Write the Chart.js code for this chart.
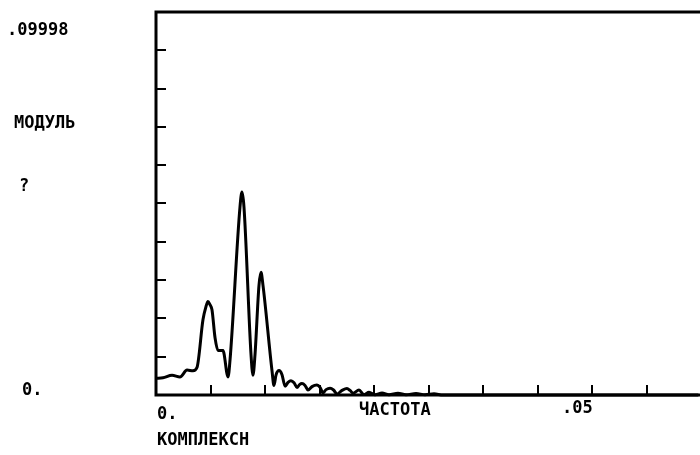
<!DOCTYPE html>
<html>
<head>
<meta charset="utf-8">
<script src="https://cdn.jsdelivr.net/npm/chart.js@4/dist/chart.umd.min.js"></script>
<style>
  html, body { margin: 0; padding: 0; background: #fff; }
  canvas { display: block; }
</style>
</head>
<body>
<canvas id="spec" width="700" height="455"></canvas>
<script>
  // Spectrum modulus vs frequency, plotter style.
  var freq = [0, 0.0008, 0.00184, 0.00275, 0.00356, 0.00424, 0.0047, 0.00539,
    0.00573, 0.00596, 0.00619, 0.00642, 0.00677, 0.00711, 0.00768, 0.00826,
    0.00849, 0.00963, 0.00986, 0.01009, 0.0109, 0.01112, 0.01135, 0.01181,
    0.01204, 0.01227, 0.0133, 0.01353, 0.01376, 0.01411, 0.01445, 0.0148,
    0.01514, 0.01548, 0.01583, 0.01617, 0.01646, 0.01674, 0.01709, 0.01743,
    0.01789, 0.01846, 0.01881, 0.01915, 0.0195, 0.01996, 0.02036, 0.02076,
    0.02133, 0.0219, 0.02225, 0.02259, 0.02328, 0.02385, 0.02443, 0.02512,
    0.02592, 0.02672, 0.02775, 0.02867, 0.02982, 0.03085, 0.03188, 0.03291,
    0.0622];
  var modul = [0.00436, 0.00449, 0.00517, 0.0047, 0.0065, 0.00632, 0.00718, 0.01968,
    0.02307, 0.0244, 0.02357, 0.02226, 0.01493, 0.01161, 0.01159, 0.00472,
    0.00916, 0.04905, 0.05296, 0.04905, 0.01039, 0.00517, 0.01039, 0.02864,
    0.03203, 0.02863, 0.0064, 0.00248, 0.0052, 0.00637, 0.0053, 0.0023,
    0.0033, 0.00373, 0.0032, 0.00196, 0.0027, 0.00298, 0.0025, 0.00133,
    0.0022, 0.00258, 0.002, 0.00057, 0.0014, 0.00177, 0.0013, 0.00026,
    0.0012, 0.00172, 0.0012, 0.00047, 0.00128, 0.0001, 0.00073, 0.00005,
    0.0005, 0.00005, 0.00045, 0.00005, 0.0004, 0.00005, 0.0003, 0,
    0];

  var Y_MAX = 0.09998;
  var Y_STEP = 0.01;
  var X_MAX = 0.06227;
  var X_STEP = 0.00625;

  var yEndLabels = [".09998", "0."];
  var yEndValues = [0.09998, 0];
  var xEndLabels = ["0.", ".05"];
  var xEndValues = [0, 0.05];
  var yTitle = ["МОДУЛЬ", "?"];
  var xTitle = "ЧАСТОТА";
  var curveName = "КОМПЛЕКСН";

  var INK = "#000";
  var FONT = "bold 17px 'DejaVu Sans Mono', monospace";

  var points = freq.map(function (f, i) { return { x: f, y: modul[i] }; });

  // Box on three sides with inward ticks, like the old plotter output.
  var framePlugin = {
    id: "plotFrame",
    beforeDatasetsDraw: function (chart) {
      var a = chart.chartArea, ctx = chart.ctx;
      var xs = chart.scales.x, ys = chart.scales.y;
      ctx.save();
      ctx.strokeStyle = INK;
      ctx.lineWidth = 3;
      ctx.lineCap = "square";
      ctx.beginPath();
      ctx.moveTo(a.left, a.bottom);
      ctx.lineTo(a.left, a.top);
      ctx.lineTo(700, a.top);
      ctx.moveTo(a.left, a.bottom);
      ctx.lineTo(700, a.bottom);
      ctx.stroke();

      ctx.lineWidth = 2;
      ctx.lineCap = "butt";
      ctx.beginPath();
      for (var v = Y_STEP; v < Y_MAX - 0.001; v += Y_STEP) {
        var py = Math.round(ys.getPixelForValue(v));
        ctx.moveTo(a.left, py);
        ctx.lineTo(a.left + 10, py);
      }
      for (var f = X_STEP; f < X_MAX; f += X_STEP) {
        var px = Math.round(xs.getPixelForValue(f));
        ctx.moveTo(px, a.bottom);
        ctx.lineTo(px, a.bottom - 10);
      }
      ctx.stroke();
      ctx.restore();
    },
    afterDraw: function (chart) {
      var ctx = chart.ctx, a = chart.chartArea;
      var xs = chart.scales.x, ys = chart.scales.y;
      ctx.save();
      ctx.fillStyle = INK;
      ctx.font = FONT;
      ctx.textBaseline = "middle";
      ctx.textAlign = "left";
      // value labels on the left
      ctx.fillText(yEndLabels[0], 7, ys.getPixelForValue(yEndValues[0]) + 19);
      ctx.fillText(yEndLabels[1], 22, ys.getPixelForValue(yEndValues[1]) - 4);
      ctx.fillText(yTitle[0], 14, 124);
      ctx.fillText(yTitle[1], 19, 187);
      // frequency labels under the axis
      ctx.fillText(xEndLabels[0], xs.getPixelForValue(xEndValues[0]) + 1, a.bottom + 20);
      ctx.fillText(xEndLabels[1], xs.getPixelForValue(xEndValues[1]) - 30, a.bottom + 14);
      ctx.fillText(xTitle, 359, a.bottom + 16);
      ctx.fillText(curveName, 157, a.bottom + 46);
      ctx.restore();
    }
  };

  new Chart(document.getElementById("spec").getContext("2d"), {
    type: "line",
    data: {
      datasets: [{
        data: points,
        borderColor: INK,
        borderWidth: 3,
        pointRadius: 0,
        fill: false,
        cubicInterpolationMode: "monotone",
        clip: 4
      }]
    },
    options: {
      responsive: false,
      animation: false,
      devicePixelRatio: 1,
      layout: { padding: { left: 156, top: 12, right: 1, bottom: 60 } },
      plugins: { legend: { display: false }, tooltip: { enabled: false } },
      scales: {
        x: { type: "linear", min: 0, max: X_MAX, display: false },
        y: { min: 0, max: Y_MAX, display: false }
      }
    },
    plugins: [framePlugin]
  });
</script>
</body>
</html>
